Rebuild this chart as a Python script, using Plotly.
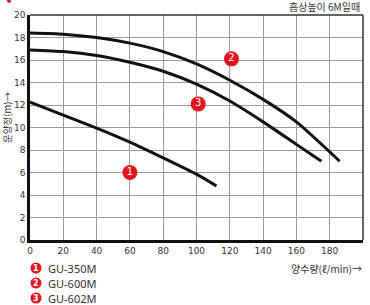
import plotly.graph_objects as go

# Data
gu350_x = [0, 20, 40, 60, 80, 100, 112]
gu350_y = [12.25, 11.1, 9.95, 8.7, 7.3, 5.85, 4.8]
gu600_x = [0, 20, 40, 60, 80, 100, 120, 140, 160, 186]
gu600_y = [18.4, 18.3, 18.0, 17.5, 16.75, 15.65, 14.2, 12.5, 10.5, 7.0]
gu602_x = [0, 20, 40, 60, 80, 100, 120, 140, 160, 175]
gu602_y = [16.9, 16.75, 16.4, 15.8, 15.0, 13.85, 12.35, 10.5, 8.5, 7.0]
badge_x = [60, 121, 101]
badge_y = [6.0, 16.1, 12.1]
badge_labels = ["1", "2", "3"]
legend_names = ["GU-350M", "GU-600M", "GU-602M"]
x_ticks = [0, 20, 40, 60, 80, 100, 120, 140, 160, 180, 200]
y_ticks = [0, 2, 4, 6, 8, 10, 12, 14, 16, 18, 20]

RED = "#e3141c"
FONT = "Noto Sans CJK KR"

fig = go.Figure()
for xs, ys in [(gu350_x, gu350_y), (gu600_x, gu600_y), (gu602_x, gu602_y)]:
    fig.add_trace(go.Scatter(x=xs, y=ys, mode="lines",
                             line=dict(color="#111", width=3, shape="spline", smoothing=0.6),
                             showlegend=False, hoverinfo="skip"))

fig.add_trace(go.Scatter(x=badge_x, y=badge_y, mode="markers+text",
                         marker=dict(size=15, color=RED),
                         text=badge_labels, textposition="middle center",
                         textfont=dict(color="white", size=10, family="Arial Black, DejaVu Sans"),
                         showlegend=False, hoverinfo="skip"))

W, H = 370, 305
L, R, T, B = 30, 7, 15, 65
pw, ph = W - L - R, H - T - B

def px_to_paper(px, py):
    return (px - L) / pw, (H - B - py) / ph

shapes = []
annotations = []
# top & right border
shapes.append(dict(type="line", xref="paper", yref="paper", x0=0, x1=1, y0=1, y1=1,
                   line=dict(color="#333", width=1.5)))
shapes.append(dict(type="line", xref="paper", yref="paper", x0=1, x1=1, y0=0, y1=1,
                   line=dict(color="#333", width=1.5)))

# legend
rows = [268, 283, 298]
for i, (lab, name) in enumerate(zip(badge_labels, legend_names)):
    cx, cy = px_to_paper(36, rows[i])
    rx, ry = 5.5 / pw, 5.5 / ph
    shapes.append(dict(type="circle", xref="paper", yref="paper",
                       x0=cx - rx, x1=cx + rx, y0=cy - ry, y1=cy + ry,
                       fillcolor=RED, line=dict(width=0)))
    annotations.append(dict(x=cx, y=cy, xref="paper", yref="paper", text="<b>" + lab + "</b>",
                            showarrow=False, font=dict(color="white", size=8, family="DejaVu Sans"),
                            xanchor="center", yanchor="middle"))
    tx, ty = px_to_paper(46, rows[i])
    annotations.append(dict(x=tx, y=ty, xref="paper", yref="paper", text=name,
                            showarrow=False, font=dict(color="#333", size=11, family="Noto Sans"),
                            xanchor="left", yanchor="middle"))

# top-right title
tx, ty = px_to_paper(362, 7)
annotations.append(dict(x=tx, y=ty, xref="paper", yref="paper", text="흡상높이 6M일때",
                        showarrow=False, font=dict(color="#333", size=10, family=FONT),
                        xanchor="right", yanchor="middle"))
# x title
tx, ty = px_to_paper(364, 268)
annotations.append(dict(x=tx, y=ty, xref="paper", yref="paper", text="양수량(ℓ/min)→",
                        showarrow=False, font=dict(color="#333", size=10, family=FONT),
                        xanchor="right", yanchor="middle"))
# y title
tx, ty = px_to_paper(7, 118)
annotations.append(dict(x=tx, y=ty, xref="paper", yref="paper", text="운양정(m)→",
                        showarrow=False, textangle=-90, font=dict(color="#333", size=9.5, family=FONT),
                        xanchor="center", yanchor="middle"))
# small red mark top-left
cx, cy = px_to_paper(9, 1)
shapes.append(dict(type="circle", xref="paper", yref="paper",
                   x0=cx - 2 / pw, x1=cx + 2 / pw, y0=cy - 2 / ph, y1=cy + 2 / ph,
                   fillcolor=RED, line=dict(width=0)))

fig.update_layout(
    width=W, height=H, margin=dict(l=L, r=R, t=T, b=B),
    paper_bgcolor="white", plot_bgcolor="white",
    shapes=shapes, annotations=annotations, showlegend=False,
    xaxis=dict(range=[0, 200], tickvals=x_ticks, showgrid=True, gridcolor="#9a9a9a", gridwidth=1,
               showline=True, linecolor="#111", linewidth=2.5, zeroline=False,
               tickfont=dict(size=9, color="#333", family="DejaVu Sans"), ticks="", ticklen=0),
    yaxis=dict(range=[0, 20], tickvals=y_ticks, showgrid=True, gridcolor="#9a9a9a", gridwidth=1,
               showline=True, linecolor="#111", linewidth=2.5, zeroline=False,
               tickfont=dict(size=9, color="#333", family="DejaVu Sans"), ticks="", ticklen=0),
)

fig.write_html("out.html")
